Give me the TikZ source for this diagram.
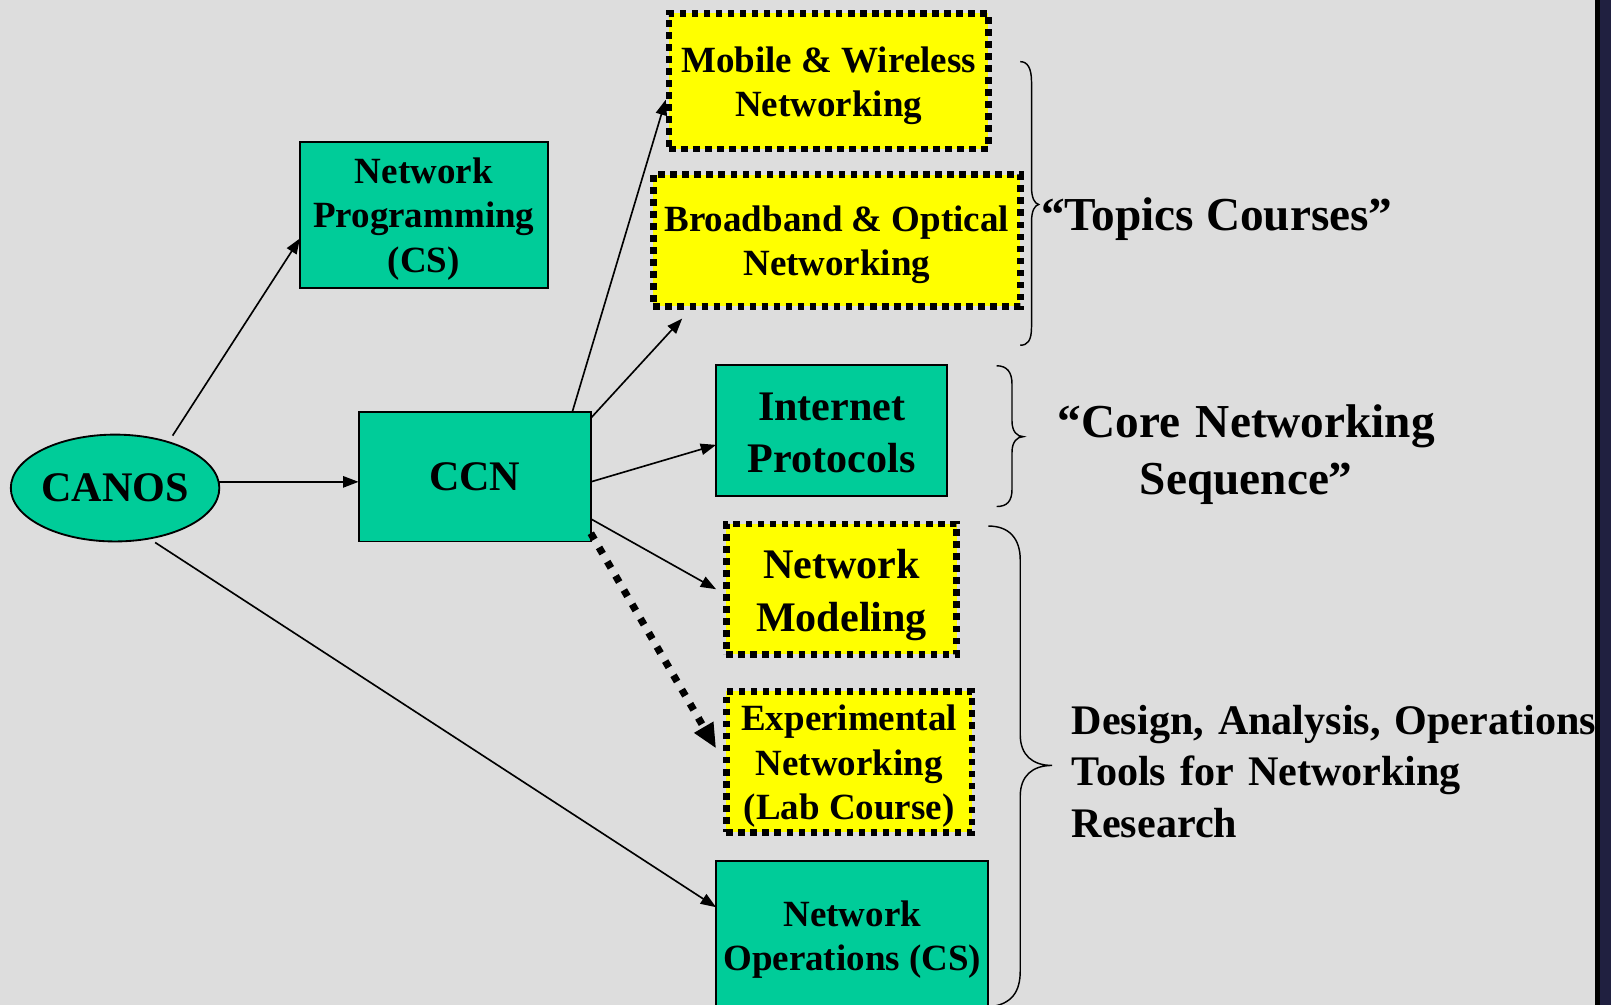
\documentclass[tikz,border=0pt]{standalone}
\usepackage{fontspec}
\setmainfont{Liberation Serif}
\usetikzlibrary{arrows.meta,shapes.geometric}
\definecolor{bgc}{RGB}{221,221,221}
\definecolor{tealc}{RGB}{0,204,153}
\definecolor{yelc}{RGB}{255,255,0}
\definecolor{navyc}{RGB}{32,32,64}
\newcommand\lst{\rule[-0.2\baselineskip]{0pt}{\baselineskip}}
\newcommand\fs[2]{\fontsize{#1}{#2}\selectfont\bfseries}
\begin{document}
\begin{tikzpicture}[x=1pt,y=-1pt]
\tikzset{
  tealbox/.style={draw=black, line width=1.8pt, fill=tealc, inner sep=1pt, outer sep=0pt, align=center, font=\fs{36}{43}},
  yelbox/.style={draw=black, line width=6.5pt, dash pattern=on 6.5pt off 5.2pt, fill=yelc, inner sep=1pt, outer sep=0pt, align=center, font=\fs{36}{43}},
  bigtext/.style={font=\fs{41}{51}},
  arr/.style={line width=1.6pt, -{Triangle[length=15pt,width=11pt]}},
  dotarr/.style={line width=7pt, dash pattern=on 7pt off 9pt, -{Triangle[length=24pt,width=20pt]}},
  bracepath/.style={line width=1.4pt, draw=black},
}
\useasboundingbox (0,0) rectangle (1568,978);
\clip (0,0) rectangle (1568,978);
\fill[bgc] (0,0) rectangle (1568,978);
\fill[navyc] (1552,0) rectangle (1568,978);
\fill[black] (1552,0) rectangle (1557,978);

% nodes
\node[ellipse, draw=black, line width=1.8pt, fill=tealc, inner sep=0pt, outer sep=0pt,
      minimum width=200pt, minimum height=104pt, font=\fs{41}{51}] (canos) at (112,475) {CANOS};
\node[tealbox, minimum width=241pt, minimum height=142pt] (np) at (412.5,209)
  {\lst Network\\\lst Programming\\\lst (CS)};
\node[tealbox, bigtext, minimum width=226pt, minimum height=126pt] (ccn) at (462,464) {CCN};
\node[yelbox, minimum width=311pt, minimum height=132pt] (mob) at (806.5,79)
  {\lst Mobile \& Wireless\\\lst Networking};
\node[yelbox, minimum width=357pt, minimum height=128pt] (bb) at (814.5,234)
  {\lst Broadband \& Optical\\\lst Networking};
\node[tealbox, bigtext, minimum width=225pt, minimum height=128pt] (ip) at (809.5,419)
  {\lst Internet\\\lst Protocols};
\node[yelbox, bigtext, minimum width=224pt, minimum height=127pt] (mod) at (819,573.5)
  {\lst Network\\\lst Modeling};
\node[yelbox, minimum width=239pt, minimum height=137pt] (exp) at (826.5,741.5)
  {\lst Experimental\\\lst Networking\\\lst (Lab Course)};
\node[tealbox, minimum width=265pt, minimum height=144pt] (ops) at (829.5,910)
  {\lst Network\\\lst Operations (CS)};

% labels
\node[font=\fs{46}{55}, anchor=base west, inner sep=0pt] (topics) at (1013,224) {“Topics Courses”};
\node[font=\fs{46}{55}, text width=420pt, align=center, anchor=base, inner sep=0pt] (core) at (1213,426)
  {“Core Networking\\Sequence”};
\node[font=\fs{41}{50}, text width=560pt, align=left, anchor=base west, inner sep=0pt] (design) at (1043,715)
  {Design, Analysis, Operations\\Tools for Networking\\Research};

% braces
\draw[bracepath] (993,60) .. controls (1000,60) and (1004,66) .. (1004,80) -- (1004,182)
  .. controls (1004,193) and (1007,198) .. (1011,199)
  .. controls (1007,200) and (1004,205) .. (1004,216) -- (1004,318)
  .. controls (1004,332) and (1000,336) .. (993,336);
\draw[bracepath] (970,356) .. controls (980,356) and (985,362) .. (985,374) -- (985,410)
  .. controls (985,420) and (990,425) .. (996,425)
  .. controls (990,425) and (985,430) .. (985,440) -- (985,476)
  .. controls (985,488) and (980,493) .. (970,493);
\draw[bracepath] (962,512) .. controls (983,512) and (993,525) .. (993,545) -- (993,715)
  .. controls (993,735) and (1005,745) .. (1024,745)
  .. controls (1005,745) and (993,755) .. (993,775) -- (993,945)
  .. controls (993,965) and (985,978) .. (962,980);

% connectors
\draw[arr] ([xshift=56pt,yshift=51pt]canos.center) -- ([yshift=-23pt]np.west);
\draw[arr] ([yshift=6pt]canos.east) -- ([yshift=-5pt]ccn.west);
\draw[arr] ([xshift=39pt,yshift=-53pt]canos.center) -- ([yshift=27pt]ops.west);
\draw[arr] ([xshift=-18pt]ccn.north east) -- ([xshift=-3pt,yshift=-18pt]mob.west);
\draw[arr] ([yshift=-6pt]ccn.north east) -- ([xshift=28pt,yshift=-12pt]bb.south west);
\draw[arr] ([yshift=-5pt]ccn.east) -- ([yshift=-14pt]ip.west);
\draw[arr] ([yshift=-41pt]ccn.east) -- ([xshift=-10pt]mod.west);
\draw[dotarr] ([yshift=8pt]ccn.south east) -- ([xshift=-10pt,yshift=13pt]exp.west);
\end{tikzpicture}
\end{document}
